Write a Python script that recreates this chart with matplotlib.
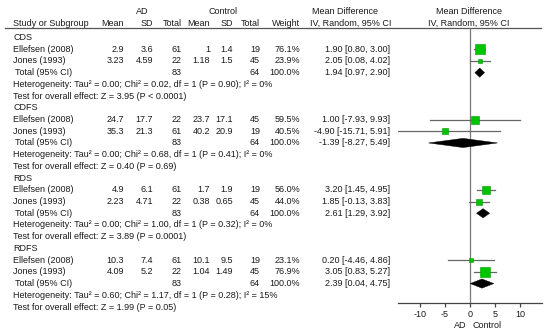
import matplotlib
matplotlib.use("Agg")
import matplotlib.pyplot as plt
from matplotlib.patches import Polygon

# ---------------- data ----------------
groups = ["CDS", "CDFS", "RDS", "RDFS"]
studies = ["Ellefsen (2008)", "Jones (1993)"]

ad_mean = [["2.9", "3.23"], ["24.7", "35.3"], ["4.9", "2.23"], ["10.3", "4.09"]]
ad_sd = [["3.6", "4.59"], ["17.7", "21.3"], ["6.1", "4.71"], ["7.4", "5.2"]]
ad_total = [[61, 22], [22, 61], [61, 22], [61, 22]]
ctrl_mean = [["1", "1.18"], ["23.7", "40.2"], ["1.7", "0.38"], ["10.1", "1.04"]]
ctrl_sd = [["1.4", "1.5"], ["17.1", "20.9"], ["1.9", "0.65"], ["9.5", "1.49"]]
ctrl_total = [[19, 45], [45, 19], [19, 45], [19, 45]]
weights = [[76.1, 23.9], [59.5, 40.5], [56.0, 44.0], [23.1, 76.9]]
md = [[1.90, 2.05], [1.00, -4.90], [3.20, 1.85], [0.20, 3.05]]
md_lo = [[0.80, 0.08], [-7.93, -15.71], [1.45, -0.13], [-4.46, 0.83]]
md_hi = [[3.00, 4.02], [9.93, 5.91], [4.95, 3.83], [4.86, 5.27]]

tot_ad = [83, 83, 83, 83]
tot_ctrl = [64, 64, 64, 64]
tot_md = [1.94, -1.39, 2.61, 2.39]
tot_lo = [0.97, -8.27, 1.29, 0.04]
tot_hi = [2.90, 5.49, 3.92, 4.75]

tau2 = ["0.00", "0.00", "0.00", "0.60"]
chi2 = ["0.02", "0.68", "1.00", "1.17"]
p_het = ["0.90", "0.41", "0.32", "0.28"]
i2 = ["0%", "0%", "0%", "15%"]
z_val = ["3.95", "0.40", "3.89", "1.99"]
p_z = ["< 0.0001", "= 0.69", "= 0.0001", "= 0.05"]

xticks = [-10, -5, 0, 5, 10]

# ---------------- layout ----------------
W, H = 550, 335
FS = 6.5
TXT = "#1a1a1a"
plt.rcParams['font.family'] = ['Liberation Sans', 'DejaVu Sans']
plt.rcParams['axes.unicode_minus'] = False

fig = plt.figure(figsize=(W / 100, H / 100), dpi=100)
bg = fig.add_axes([0, 0, 1, 1])
bg.set_xlim(0, W)
bg.set_ylim(H, 0)
bg.axis('off')

def t(x, y, s, ha='left', va='center', **kw):
    bg.text(x, y, s, ha=ha, va=va, fontsize=FS, color=TXT, **kw)

# headers
t(142, 12, "AD", ha='center')
t(223, 12, "Control", ha='center')
t(345, 12, "Mean Difference", ha='center')
t(469, 12, "Mean Difference", ha='center')
hy = 25.5
for x, s, ha in [(13, "Study or Subgroup", 'left'), (124, "Mean", 'right'), (153, "SD", 'right'),
                 (182, "Total", 'right'), (210, "Mean", 'right'), (233, "SD", 'right'),
                 (260, "Total", 'right'), (300, "Weight", 'right'),
                 (351, "IV, Random, 95% CI", 'center'), (469, "IV, Random, 95% CI", 'center')]:
    t(x, hy, s, ha=ha, va='baseline')
bg.plot([5, 541], [27.5, 27.5], color="#555555", lw=0.9)

# forest axes (y in pixel rows)
ax_top, ax_bot = 27.5, 303
ax = fig.add_axes([398.3 / W, (H - ax_bot) / H, 143.4 / W, (ax_bot - ax_top) / H])
ax.set_xlim(-14.3, 14.3)
ax.set_ylim(ax_bot, ax_top)
ax.patch.set_alpha(0)
for s in ['top', 'left', 'right']:
    ax.spines[s].set_visible(False)
ax.spines['bottom'].set_color('#444444')
ax.spines['bottom'].set_linewidth(0.9)
ax.set_yticks([])
ax.set_xticks(xticks)
ax.set_xticklabels([str(v) for v in xticks])
ax.tick_params(axis='x', direction='out', length=3, width=0.9, color='#444444',
               labelsize=FS, labelcolor=TXT, pad=2)
ax.axvline(0, color='#777777', lw=0.9, zorder=1)

top_row = 37.5
step = (307 - 37.5) / 23
GREEN = "#00c400"

for g in range(4):
    base = top_row + g * 6 * step
    ys = [base + k * step for k in range(6)]
    t(13, ys[0], groups[g])
    for i in range(2):
        y = ys[1 + i]
        t(13, y, studies[i])
        t(124, y, ad_mean[g][i], ha='right')
        t(153, y, ad_sd[g][i], ha='right')
        t(182, y, str(ad_total[g][i]), ha='right')
        t(210, y, ctrl_mean[g][i], ha='right')
        t(233, y, ctrl_sd[g][i], ha='right')
        t(260, y, str(ctrl_total[g][i]), ha='right')
        t(300, y, f"{weights[g][i]:.1f}%", ha='right')
        t(390, y, f"{md[g][i]:.2f} [{md_lo[g][i]:.2f}, {md_hi[g][i]:.2f}]", ha='right')
        ax.plot([md_lo[g][i], md_hi[g][i]], [y, y], color='#666666', lw=0.9, zorder=2)
        side = 0.13 * weights[g][i] * 0.72
        ax.plot([md[g][i]], [y], marker='s', ms=side, color=GREEN,
                markeredgecolor='#00a000', markeredgewidth=0.4, zorder=3)
    y = ys[3]
    t(15, y, "Total (95% CI)")
    t(182, y, str(tot_ad[g]), ha='right')
    t(260, y, str(tot_ctrl[g]), ha='right')
    t(300, y, "100.0%", ha='right')
    t(390, y, f"{tot_md[g]:.2f} [{tot_lo[g]:.2f}, {tot_hi[g]:.2f}]", ha='right')
    hh = 4.6
    ax.add_patch(Polygon([(tot_lo[g], y), (tot_md[g], y - hh), (tot_hi[g], y), (tot_md[g], y + hh)],
                         closed=True, facecolor='black', edgecolor='black', lw=0.3, zorder=3))
    t(13, ys[4], f"Heterogeneity: Tau\u00b2 = {tau2[g]}; Chi\u00b2 = {chi2[g]}, df = 1 (P = {p_het[g]}); I\u00b2 = {i2[g]}")
    t(13, ys[5], f"Test for overall effect: Z = {z_val[g]} (P {p_z[g]})")

t(460, 325, "AD", ha='center')
t(487, 325, "Control", ha='center')

fig.savefig("out.png", dpi=100)
